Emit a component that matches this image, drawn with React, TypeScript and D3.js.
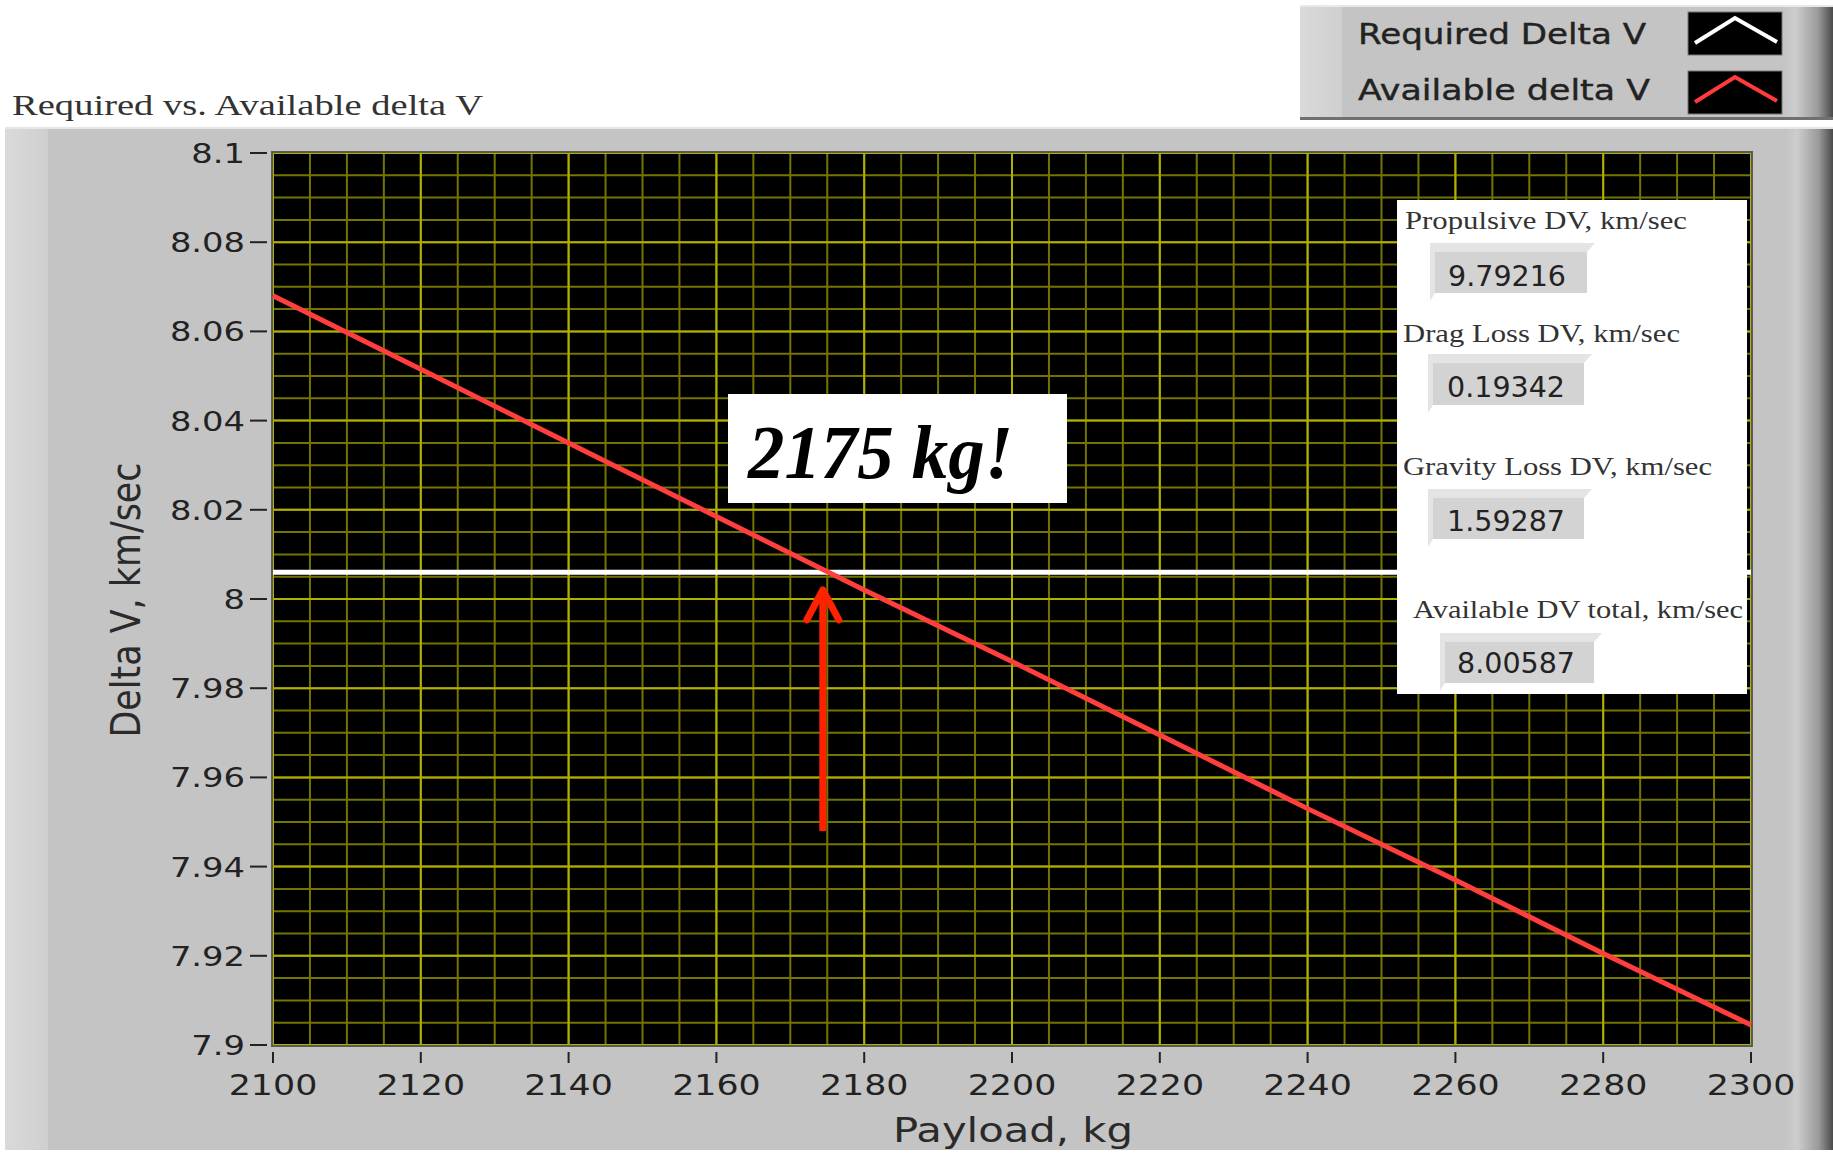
import React from 'react'
import * as d3 from 'd3'

// payload sweep and the two delta V curves
const payloadKg = [2100, 2120, 2140, 2160, 2180, 2200, 2220, 2240, 2260, 2280, 2300]
const availableDv = [8.068, 8.0515, 8.035, 8.0185, 8.002, 7.986, 7.9695, 7.953, 7.937, 7.9205, 7.9045]
const requiredKg = [2100, 2300]
const requiredDv = [8.006, 8.006]

const xTicks = [2100, 2120, 2140, 2160, 2180, 2200, 2220, 2240, 2260, 2280, 2300]
const yTicks = [7.9, 7.92, 7.94, 7.96, 7.98, 8, 8.02, 8.04, 8.06, 8.08, 8.1]
const yTickLabels = ['7.9', '7.92', '7.94', '7.96', '7.98', '8', '8.02', '8.04', '8.06', '8.08', '8.1']

const legendNames = ['Required Delta V', 'Available delta V']
const legendColors = ['#ffffff', '#ff3b3b']

const infoLabels = ['Propulsive DV, km/sec', 'Drag Loss DV, km/sec', 'Gravity Loss DV, km/sec', 'Available DV total, km/sec']
const infoValues = ['9.79216', '0.19342', '1.59287', '8.00587']

const crossingKg = 2174.4
const arrowTipDv = 8.0025
const arrowTailDv = 7.948

const W = 1833
const H = 1154
const plot = { left: 273, right: 1751, top: 153, bottom: 1045 }

const sans = 'DejaVu Sans, Verdana, sans-serif'
const serif = 'Liberation Serif, Times New Roman, serif'

export default function App() {
  const x = d3.scaleLinear().domain([2100, 2300]).range([plot.left, plot.right])
  const y = d3.scaleLinear().domain([7.9, 8.1]).range([plot.bottom, plot.top])

  const minorX = d3.range(2100, 2300.01, 5)
  const minorY = d3.range(0, 41).map(i => 7.9 + i * 0.005)

  const line = d3.line<[number, number]>().x(d => x(d[0])).y(d => y(d[1]))
  const availPts = payloadKg.map((k, i) => [k, availableDv[i]] as [number, number])
  const reqPts = requiredKg.map((k, i) => [k, requiredDv[i]] as [number, number])

  // info panel layout (label baseline, value box)
  const rows = [
    { lx: 1405, ly: 229, lw: 282, bx: 1435, by: 252, bx2: 1587, by2: 293, vx: 1448, vy: 286 },
    { lx: 1403, ly: 342, lw: 277, bx: 1433, by: 363, bx2: 1584, by2: 405, vx: 1447, vy: 397 },
    { lx: 1403, ly: 475, lw: 309, bx: 1433, by: 498, bx2: 1584, by2: 539, vx: 1447, vy: 531 },
    { lx: 1413, ly: 618, lw: 330, bx: 1445, by: 642, bx2: 1594, by2: 683, vx: 1457, vy: 673 },
  ]

  const ax = x(crossingKg)
  const tipY = y(arrowTipDv)

  return (
    <svg width={W} height={H} style={{ position: 'absolute', left: 0, top: 0, background: '#fff' }}>
      <defs>
        <linearGradient id="rightBevel" x1="0" x2="1" y1="0" y2="0">
          <stop offset="0" stopColor="#c4c4c4" />
          <stop offset="0.25" stopColor="#cdcdcd" />
          <stop offset="0.7" stopColor="#9a9a9a" />
          <stop offset="1" stopColor="#4a4a4a" />
        </linearGradient>
        <linearGradient id="leftBevel" x1="0" x2="1" y1="0" y2="0">
          <stop offset="0" stopColor="#dadada" />
          <stop offset="1" stopColor="#cfcfcf" />
        </linearGradient>
      </defs>

      {/* legend panel */}
      <rect x={1300} y={5} width={W - 1300} height={115} fill="#c4c4c4" />
      <rect x={1300} y={5} width={42} height={115} fill="url(#leftBevel)" />
      <rect x={1783} y={5} width={50} height={115} fill="url(#rightBevel)" />
      <rect x={1300} y={5} width={W - 1300} height={2} fill="#e8e8e8" />
      <rect x={1300} y={117} width={W - 1300} height={3} fill="#707070" />
      {legendNames.map((n, i) => {
        const top = i === 0 ? 12 : 71
        return (
          <g key={n}>
            <text x={1358} y={i === 0 ? 44 : 100} fontFamily={sans} fontSize={28} fill="#222"
              stroke="#222" strokeWidth={0.4}
              textLength={i === 0 ? 288 : 292} lengthAdjust="spacingAndGlyphs">{n}</text>
            <rect x={1688} y={top} width={94} height={43} fill="#000" stroke="#777" strokeWidth={1} />
            <polyline points={`1695,${top + 31} 1735,${top + 6} 1777,${top + 30}`} fill="none"
              stroke={legendColors[i]} strokeWidth={4} />
          </g>
        )
      })}

      {/* graph title */}
      <text x={12} y={115} fontFamily={serif} fontSize={29} fill="#333" textLength={471}
        lengthAdjust="spacingAndGlyphs">Required vs. Available delta V</text>

      {/* main gray panel */}
      <rect x={5} y={127} width={W - 5} height={1023} fill="#c4c4c4" />
      <rect x={5} y={127} width={43} height={1023} fill="url(#leftBevel)" />
      <rect x={1785} y={127} width={48} height={1023} fill="url(#rightBevel)" />
      <rect x={5} y={127} width={W - 5} height={2} fill="#e6e6e6" />

      {/* plot area */}
      <rect x={plot.left} y={plot.top} width={plot.right - plot.left} height={plot.bottom - plot.top} fill="#000" />
      <g>
        {minorX.map(v => (
          <line key={'mx' + v} x1={x(v)} x2={x(v)} y1={plot.top} y2={plot.bottom} stroke="#747400" strokeWidth={2} />
        ))}
        {minorY.map(v => (
          <line key={'my' + v} x1={plot.left} x2={plot.right} y1={y(v)} y2={y(v)} stroke="#747400" strokeWidth={2} />
        ))}
        {xTicks.map(v => (
          <line key={'Mx' + v} x1={x(v)} x2={x(v)} y1={plot.top} y2={plot.bottom} stroke="#b0b000" strokeWidth={2} />
        ))}
        {yTicks.map(v => (
          <line key={'My' + v} x1={plot.left} x2={plot.right} y1={y(v)} y2={y(v)} stroke="#b0b000" strokeWidth={2} />
        ))}
      </g>
      <rect x={plot.left - 1} y={plot.top - 1} width={plot.right - plot.left + 2} height={plot.bottom - plot.top + 2}
        fill="none" stroke="#5a5a5a" strokeWidth={2} />

      {/* series */}
      <path d={line(reqPts) || ''} fill="none" stroke="#ffffff" strokeWidth={5} />
      <path d={line(availPts) || ''} fill="none" stroke="#ff3e3e" strokeWidth={5} />

      {/* y axis */}
      {yTicks.map((v, i) => (
        <g key={'yt' + v}>
          <line x1={250} x2={267} y1={y(v)} y2={y(v)} stroke="#222" strokeWidth={2} />
          <text transform={`translate(245,${y(v) + 10}) scale(1.25,1)`} textAnchor="end"
            fontFamily={sans} fontSize={27} fill="#222">{yTickLabels[i]}</text>
        </g>
      ))}
      <text transform={`translate(140,600) rotate(-90)`} textAnchor="middle" fontFamily={sans} fontSize={40}
        fill="#2a2a2a" textLength={275} lengthAdjust="spacingAndGlyphs">Delta V, km/sec</text>

      {/* x axis */}
      {xTicks.map(v => (
        <g key={'xt' + v}>
          <line x1={x(v)} x2={x(v)} y1={1052} y2={1063} stroke="#222" strokeWidth={2} />
          <text transform={`translate(${x(v)},1095) scale(1.2,1)`} textAnchor="middle"
            fontFamily={sans} fontSize={29} fill="#222">{v}</text>
        </g>
      ))}
      <text x={1013} y={1142} textAnchor="middle" fontFamily={sans} fontSize={34} fill="#2a2a2a"
        textLength={240} lengthAdjust="spacingAndGlyphs">Payload, kg</text>

      {/* info panel */}
      <rect x={1397} y={200} width={350} height={494} fill="#fff" />
      {rows.map((r, i) => (
        <g key={'info' + i}>
          <text x={r.lx} y={r.ly} fontFamily={serif} fontSize={26} fill="#333" textLength={r.lw}
            lengthAdjust="spacingAndGlyphs">{infoLabels[i]}</text>
          <polygon points={`${r.bx - 5},${r.by - 9} ${r.bx2 + 8},${r.by - 9} ${r.bx2},${r.by} ${r.bx},${r.by} ${r.bx},${r.by2} ${r.bx - 5},${r.by2 + 8}`}
            fill="#e4e4e4" />
          <rect x={r.bx} y={r.by} width={r.bx2 - r.bx} height={r.by2 - r.by} fill="#d3d3d3" />
          <text x={r.vx} y={r.vy} fontFamily={sans} fontSize={28} fill="#222" textLength={118}
            lengthAdjust="spacingAndGlyphs">{infoValues[i]}</text>
        </g>
      ))}

      {/* annotation */}
      <rect x={728} y={394} width={339} height={109} fill="#fff" />
      <text x={748} y={478} fontFamily={serif} fontWeight="bold" fontStyle="italic" fontSize={76} fill="#000"
        textLength={265} lengthAdjust="spacingAndGlyphs">2175 kg!</text>
      <line x1={ax} x2={ax} y1={y(arrowTailDv)} y2={tipY + 4} stroke="#ff2200" strokeWidth={7} />
      <polyline points={`${ax - 16},${tipY + 32} ${ax},${tipY + 2} ${ax + 16},${tipY + 32}`} fill="none"
        stroke="#ff2200" strokeWidth={7} strokeLinecap="round" strokeLinejoin="round" />
    </svg>
  )
}
